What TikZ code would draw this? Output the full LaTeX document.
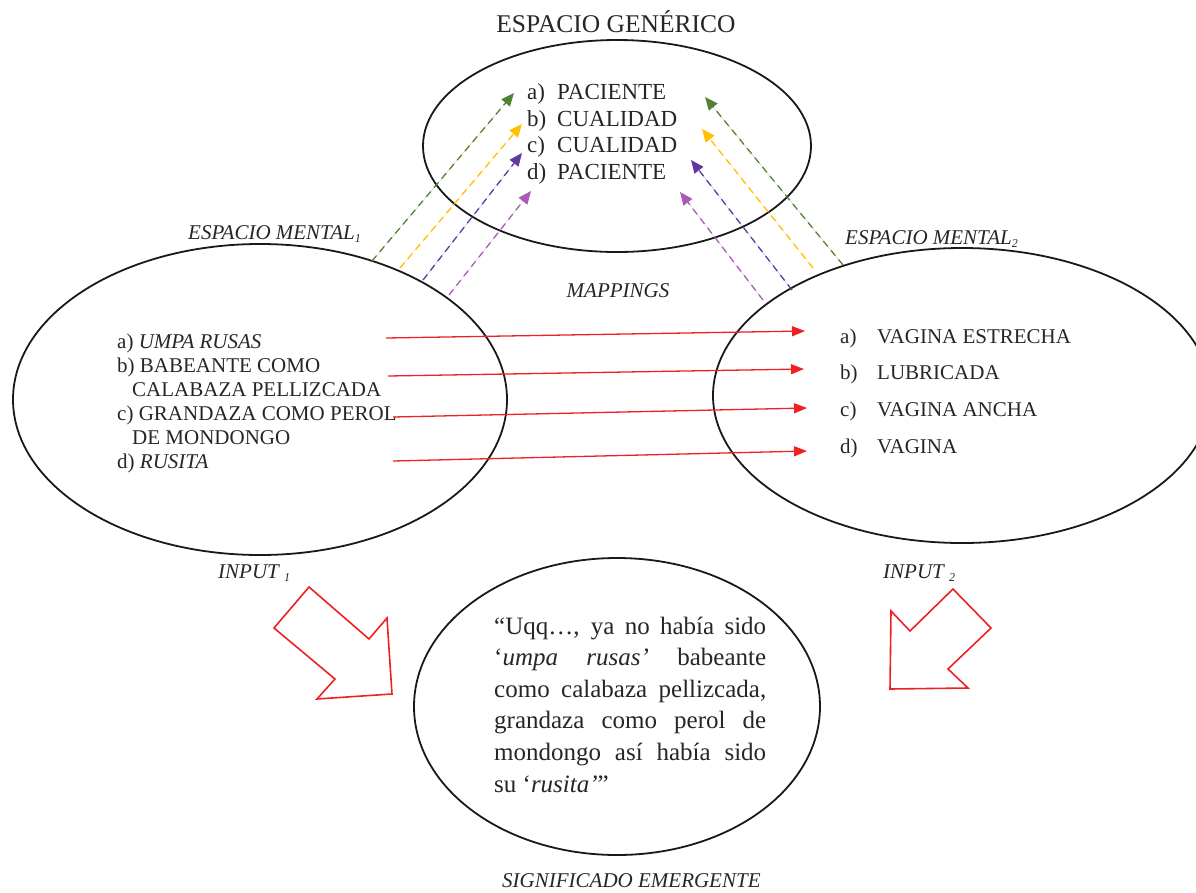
\documentclass[tikz,border=0pt]{standalone}
\usepackage{fontspec}
\setmainfont{Liberation Serif}
\usetikzlibrary{shapes.geometric,arrows.meta}

\definecolor{mapred}{RGB}{237,32,36}
\definecolor{lgreen}{RGB}{84,130,53}
\definecolor{lyellow}{RGB}{255,192,0}
\definecolor{lpurple}{RGB}{92,58,160}
\definecolor{lviolet}{RGB}{168,92,180}

\newcommand{\idx}[1]{{\fontsize{12}{12}\selectfont\raisebox{-3pt}{#1}}}

\begin{document}
\begin{tikzpicture}[x=1pt,y=-1pt,
  space/.style={draw=black!90, ellipse, line width=1.8pt, inner sep=0pt},
  genitem/.style={anchor=base west, inner sep=0pt, font=\fontsize{23}{26}\selectfont, text=black!85},
  initem/.style={anchor=base west, inner sep=0pt, font=\fontsize{21}{24}\selectfont, text=black!85},
  lbl/.style={inner sep=0pt, font=\fontsize{21}{24}\selectfont\itshape, text=black!85},
  maparrow/.style={draw=mapred, line width=1.3pt, -{Triangle[length=13pt,width=10pt]}},
  link/.style={dash pattern=on 7pt off 5pt, line width=1.3pt, -{Triangle[length=13pt,width=11pt]}},
  bigarrow/.style={draw=mapred, line width=1.6pt, line join=miter},
]
\useasboundingbox (0,0) rectangle (1196,892);
\clip (0,0) rectangle (1196,892);

% the four mental spaces
\node[space, minimum width=388pt, minimum height=212pt] (gen) at (617,146) {};
\node[space, minimum width=494pt, minimum height=311pt] (in1) at (260,399.5) {};
\node[space, minimum width=498pt, minimum height=295pt] (in2) at (962,395.5) {};
\node[space, minimum width=406pt, minimum height=297pt] (emg) at (617,706.5) {};

% labels
\node[anchor=base, inner sep=0pt, font=\fontsize{25.5}{30}\selectfont, text=black!85] (title) at (616,32) {ESPACIO GENÉRICO};
\node[lbl, anchor=base west] (lm1) at (188,239) {ESPACIO MENTAL\idx{1}};
\node[lbl, anchor=base west] (lm2) at (845,244) {ESPACIO MENTAL\idx{2}};
\node[lbl, anchor=base] (lmap) at (618,297) {MAPPINGS};
\node[lbl, anchor=base west] (lin1) at (218,578) {INPUT \idx{1}};
\node[lbl, anchor=base west] (lin2) at (883,578) {INPUT \idx{2}};
\node[lbl, anchor=base west] (lem) at (502,887) {SIGNIFICADO EMERGENTE};

% generic space contents
\node[genitem] (ga) at (527,99)  {\makebox[30pt][l]{a)}PACIENTE};
\node[genitem] (gb) at (527,126) {\makebox[30pt][l]{b)}CUALIDAD};
\node[genitem] (gc) at (527,152) {\makebox[30pt][l]{c)}CUALIDAD};
\node[genitem] (gd) at (527,179) {\makebox[30pt][l]{d)}PACIENTE};

% input 1 contents
\node[initem] (la)  at (117,348) {a) \textit{UMPA RUSAS}};
\node[initem] (lb)  at (117,372) {b) BABEANTE COMO};
\node[initem] (lb2) at (132,396) {CALABAZA PELLIZCADA};
\node[initem] (lc)  at (117,420) {c) GRANDAZA COMO PEROL};
\node[initem] (lc2) at (132,444) {DE MONDONGO};
\node[initem] (ld)  at (117,468) {d) \textit{RUSITA}};

% input 2 contents
\node[initem] (ra) at (840,343) {\makebox[37pt][l]{a)}VAGINA ESTRECHA};
\node[initem] (rb) at (840,379) {\makebox[37pt][l]{b)}LUBRICADA};
\node[initem] (rc) at (840,416) {\makebox[37pt][l]{c)}VAGINA ANCHA};
\node[initem] (rd) at (840,453) {\makebox[37pt][l]{d)}VAGINA};

% emergent meaning
\node[anchor=base west, inner sep=0pt, text=black!85] (blend) at (494,634) {\parbox[t]{272pt}{%
  \fontsize{25}{31.6}\selectfont\tolerance=10000\hyphenpenalty=10000
  “Uqq…, ya no había sido\linebreak
  ‘\textit{umpa rusas’} babeante\linebreak
  como calabaza pellizcada,\linebreak
  grandaza como perol de\linebreak
  mondongo así había sido\linebreak
  su ‘\textit{rusita’}”}};

% cross-space mappings
\coordinate (m1s) at (386,338); \coordinate (m1e) at (805,331);
\coordinate (m2s) at (388,376); \coordinate (m2e) at (804,369);
\coordinate (m3s) at (393,417); \coordinate (m3e) at (807,408);
\coordinate (m4s) at (393,461); \coordinate (m4e) at (807,451);
\draw[maparrow] (m1s) -- (m1e);
\draw[maparrow] (m2s) -- (m2e);
\draw[maparrow] (m3s) -- (m3e);
\draw[maparrow] (m4s) -- (m4e);

% projections to the generic space
\coordinate (l1s) at (372,261); \coordinate (l1e) at (514,93);
\coordinate (l2s) at (400,268); \coordinate (l2e) at (522,124);
\coordinate (l3s) at (423,280); \coordinate (l3e) at (522,153);
\coordinate (l4s) at (449,295); \coordinate (l4e) at (531,191);
\coordinate (r1s) at (843,265); \coordinate (r1e) at (705,97);
\coordinate (r2s) at (813,268); \coordinate (r2e) at (702,129);
\coordinate (r3s) at (792,290); \coordinate (r3e) at (691,160);
\coordinate (r4s) at (763,300); \coordinate (r4e) at (680,192);
\draw[link, draw=lgreen, fill=lgreen]   (l1s) -- (l1e);
\draw[link, draw=lyellow, fill=lyellow] (l2s) -- (l2e);
\draw[link, draw=lpurple, fill=lpurple] (l3s) -- (l3e);
\draw[link, draw=lviolet, fill=lviolet] (l4s) -- (l4e);
\draw[link, draw=lgreen, fill=lgreen]   (r1s) -- (r1e);
\draw[link, draw=lyellow, fill=lyellow] (r2s) -- (r2e);
\draw[link, draw=lpurple, fill=lpurple] (r3s) -- (r3e);
\draw[link, draw=lviolet, fill=lviolet] (r4s) -- (r4e);

% hollow block arrows into the blend
\draw[bigarrow] (309,587) -- (369,639) -- (387,618) -- (392,694) -- (317,699) -- (335,679) -- (274,628) -- cycle;
\draw[bigarrow] (953,589) -- (991,628) -- (948,669) -- (968,688) -- (890,689) -- (891,611) -- (910,631) -- cycle;
\end{tikzpicture}
\end{document}
